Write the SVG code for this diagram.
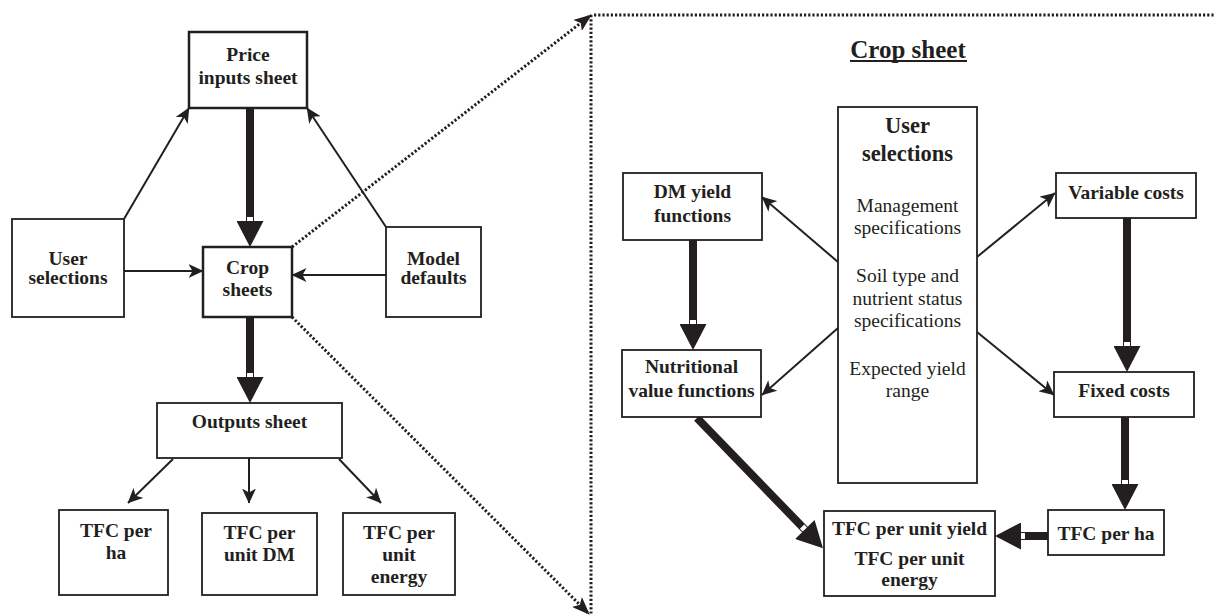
<svg xmlns="http://www.w3.org/2000/svg" width="1215" height="615" viewBox="0 0 1215 615">
<style>
  .box{fill:#fff;stroke:#231f20;stroke-width:1.8}
  .bx2{fill:#fff;stroke:#231f20;stroke-width:2.5}
  .t{font-family:"Liberation Serif","Times New Roman",serif;font-size:19.5px;font-weight:bold;fill:#231f20;text-anchor:middle}
  .r{font-family:"Liberation Serif","Times New Roman",serif;font-size:19.5px;fill:#231f20;text-anchor:middle}
  .big{font-size:22.5px}
  .thin{stroke:#231f20;stroke-width:2;fill:none;marker-end:url(#thinhead)}
  .thick{stroke:#231f20;stroke-width:8;fill:none;marker-end:url(#thickhead)}
  .dot{stroke:#231f20;stroke-width:3;fill:none;stroke-dasharray:2.2 2}
  .dota{marker-end:url(#dothead)}
</style>
<defs>
  <marker id="thinhead" markerUnits="userSpaceOnUse" viewBox="0 0 15 14" refX="14.5" refY="7" markerWidth="15" markerHeight="14" orient="auto">
    <path d="M0,0 L15,7 L0,14 L4,7 Z" fill="#231f20"/>
  </marker>
  <marker id="thickhead" markerUnits="userSpaceOnUse" viewBox="-5 0 31 27" refX="16" refY="13.5" markerWidth="31" markerHeight="27" orient="auto">
    <path d="M0,0 L26,13.5 L0,27 Z" fill="#231f20"/>
    <rect x="-4" y="10.5" width="4" height="6" fill="#fff"/>
  </marker>
  <marker id="dothead" markerUnits="userSpaceOnUse" viewBox="0 0 18 14" refX="17" refY="7" markerWidth="18" markerHeight="14" orient="auto">
    <path d="M0,0 L18,7 L0,14 L4,7 Z" fill="#231f20"/>
  </marker>
</defs>

<g id="connectors">
  <line class="thick" x1="250" y1="108" x2="250" y2="237"/>
  <line class="thick" x1="250" y1="317" x2="250" y2="393"/>
  <line class="thin" x1="124" y1="219" x2="189" y2="108"/>
  <line class="thin" x1="386" y1="227" x2="307" y2="108"/>
  <line class="thin" x1="124" y1="271" x2="203" y2="271"/>
  <line class="thin" x1="386" y1="275" x2="292" y2="275"/>
  <line class="thin" x1="173" y1="459" x2="128" y2="503"/>
  <line class="thin" x1="249" y1="458" x2="249" y2="503"/>
  <line class="thin" x1="339" y1="459" x2="381" y2="503"/>
  <line class="dot dota" x1="292" y1="247" x2="591" y2="15"/>
  <line class="dot dota" x1="292" y1="317" x2="589" y2="614"/>
  <line class="dot" x1="591" y1="15" x2="591" y2="615"/>
  <line class="dot" x1="594" y1="15" x2="1215" y2="15"/>
  <line class="thick" x1="693" y1="240" x2="693" y2="340"/>
  <line class="thick" x1="1127" y1="218" x2="1127" y2="362"/>
  <line class="thick" x1="1125" y1="417" x2="1125" y2="500"/>
  <line class="thick" x1="1048" y1="536" x2="1005" y2="536"/>
  <line class="thick" x1="697" y1="418" x2="816" y2="541"/>
  <line class="thin" x1="838" y1="262" x2="762" y2="197"/>
  <line class="thin" x1="838" y1="328" x2="762" y2="395"/>
  <line class="thin" x1="977" y1="257" x2="1055" y2="193"/>
  <line class="thin" x1="977" y1="332" x2="1054" y2="395"/>
</g>

<g id="price-inputs">
  <rect class="bx2" x="189" y="32" width="118" height="76"/>
  <text class="t" x="248" y="61">Price</text>
  <text class="t" x="248" y="84">inputs sheet</text>
</g>
<g id="user-selections-left">
  <rect class="box" x="12" y="219" width="112" height="98"/>
  <text class="t" x="68" y="265">User</text>
  <text class="t" x="68" y="284">selections</text>
</g>
<g id="crop-sheets">
  <rect class="bx2" x="203" y="247" width="89" height="70"/>
  <text class="t" x="247.5" y="274">Crop</text>
  <text class="t" x="247.5" y="296">sheets</text>
</g>
<g id="model-defaults">
  <rect class="box" x="386" y="227" width="95" height="90"/>
  <text class="t" x="433.5" y="265">Model</text>
  <text class="t" x="433.5" y="284">defaults</text>
</g>
<g id="outputs-sheet">
  <rect class="box" x="157" y="403" width="185" height="55"/>
  <text class="t" x="249.5" y="428">Outputs sheet</text>
</g>
<g id="tfc-ha-left">
  <rect class="box" x="59" y="510" width="109" height="85"/>
  <text class="t" x="116" y="537">TFC per</text>
  <text class="t" x="116" y="559">ha</text>
</g>
<g id="tfc-dm">
  <rect class="box" x="202" y="513" width="115" height="82"/>
  <text class="t" x="259.5" y="539">TFC per</text>
  <text class="t" x="259.5" y="561">unit DM</text>
</g>
<g id="tfc-energy-left">
  <rect class="box" x="343" y="513" width="112" height="82"/>
  <text class="t" x="399" y="539">TFC per</text>
  <text class="t" x="399" y="561">unit</text>
  <text class="t" x="399" y="583">energy</text>
</g>

<g id="crop-sheet-title">
  <text class="t" x="908" y="58" style="font-size:25px">Crop sheet</text>
  <line x1="850" y1="61" x2="967" y2="61" stroke="#231f20" stroke-width="2"/>
</g>
<g id="user-selections-right">
  <rect class="box" x="838" y="107" width="139" height="376"/>
  <text class="t big" x="907.5" y="133">User</text>
  <text class="t big" x="907.5" y="161">selections</text>
  <text class="r" x="907.5" y="212">Management</text>
  <text class="r" x="907.5" y="234">specifications</text>
  <text class="r" x="907.5" y="282">Soil type and</text>
  <text class="r" x="907.5" y="305">nutrient status</text>
  <text class="r" x="907.5" y="327">specifications</text>
  <text class="r" x="907.5" y="375">Expected yield</text>
  <text class="r" x="907.5" y="397">range</text>
</g>
<g id="dm-yield">
  <rect class="box" x="623" y="173" width="139" height="67"/>
  <text class="t" x="692.5" y="198">DM yield</text>
  <text class="t" x="692.5" y="222">functions</text>
</g>
<g id="nutritional">
  <rect class="box" x="622" y="350" width="139" height="67"/>
  <text class="t" x="691.5" y="373">Nutritional</text>
  <text class="t" x="691.5" y="397">value functions</text>
</g>
<g id="variable-costs">
  <rect class="box" x="1056" y="173" width="140" height="45"/>
  <text class="t" x="1126" y="199">Variable costs</text>
</g>
<g id="fixed-costs">
  <rect class="box" x="1054" y="372" width="140" height="45"/>
  <text class="t" x="1124" y="397">Fixed costs</text>
</g>
<g id="tfc-ha-right">
  <rect class="box" x="1048" y="510" width="116" height="45"/>
  <text class="t" x="1106" y="540">TFC per ha</text>
</g>
<g id="tfc-unit">
  <rect class="box" x="824" y="511" width="171" height="85"/>
  <text class="t" x="909.5" y="535">TFC per unit yield</text>
  <text class="t" x="909.5" y="565">TFC per unit</text>
  <text class="t" x="909.5" y="586">energy</text>
</g>
</svg>
